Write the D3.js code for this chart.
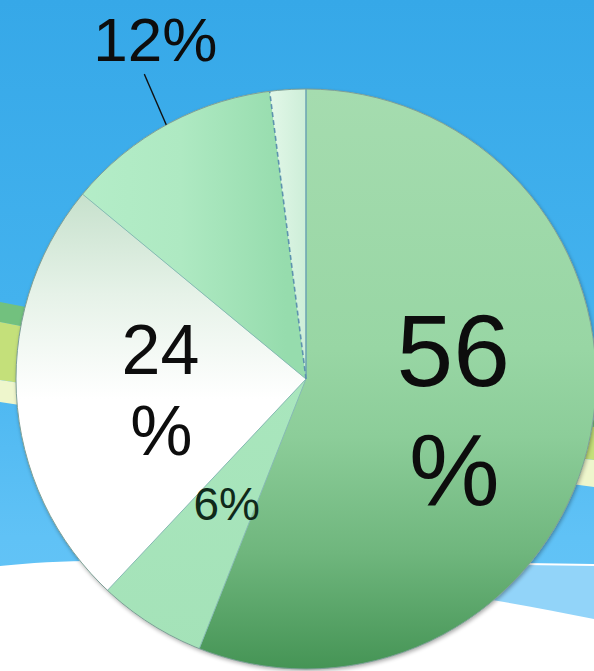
<!DOCTYPE html>
<html>
<head>
<meta charset="utf-8">
<script src="https://cdn.jsdelivr.net/npm/d3@7"></script>
<style>
  html, body { margin: 0; padding: 0; background: #fff; }
  svg { display: block; }
  text { font-family: "Liberation Sans", Arial, sans-serif; }
</style>
</head>
<body>
<div id="chart"></div>
<script>
// ---- data ----
const categories = ["A", "B", "C", "D", "E"];
const values = [56, 6, 24, 12, 2];
const labels = ["56%", "6%", "24%", "12%", ""];

// ---- styles ----
const W = 594, H = 671;
const cx = 306, cy = 379, R = 290;
const fontSizes = [102, 46, 70, 62, 0];
const wrapLabel = [true, false, true, false, false];
const outsideLabel = [false, false, false, true, false];

const svg = d3.select("#chart").append("svg").attr("width", W).attr("height", H);
const defs = svg.append("defs");

function linGrad(id, x1, y1, x2, y2, stops, units) {
  const g = defs.append("linearGradient").attr("id", id)
    .attr("x1", x1).attr("y1", y1).attr("x2", x2).attr("y2", y2);
  if (units) g.attr("gradientUnits", units);
  stops.forEach(s => g.append("stop").attr("offset", s[0]).attr("stop-color", s[1]));
}

// background gradients
linGrad("sky", 0, 0, 0, 1, [[0, "#36a8e8"], [0.45, "#43b2ee"], [0.8, "#60c2f6"], [1, "#66c5f7"]]);

// slice gradients (user space of the pie group, origin at the pie centre)
linGrad("g56", 0, -R, 0, R, [[0, "#a5dcaf"], [0.45, "#98d6a4"], [0.6, "#8ccd99"], [0.8, "#6fb67d"], [1, "#459455"]], "userSpaceOnUse");
linGrad("g6", 0, 0, 0, R, [[0, "#a9e6bd"], [1, "#a4e2b8"]], "userSpaceOnUse");
linGrad("g24", 0, -190, 0, 20, [[0, "#c5e0cb"], [0.5, "#e6f2e8"], [1, "#ffffff"]], "userSpaceOnUse");
linGrad("g12", -230, 0, -20, 0, [[0, "#b4edc8"], [0.5, "#aee9c2"], [1, "#96dcad"]], "userSpaceOnUse");
linGrad("g2", -36, 0, 0, 0, [[0, "#e2f7e8"], [1, "#cdeed8"]], "userSpaceOnUse");
const fills = ["url(#g56)", "url(#g6)", "url(#g24)", "url(#g12)", "url(#g2)"];

// ---- background ----
svg.append("rect").attr("width", W).attr("height", H).attr("fill", "url(#sky)");

// wave bands
const bands = [
  { top: [[0, 302], [300, 360], [594, 420]], bot: [[0, 322], [300, 380], [594, 427]], fill: "#72c17e" },
  { top: [[0, 322], [300, 380], [594, 427]], bot: [[0, 380], [300, 425], [594, 460]], fill: "#c4e07a" },
  { top: [[0, 380], [300, 425], [594, 460]], bot: [[0, 402], [300, 448], [594, 487]], fill: "#eef6cc" }
];
bands.forEach(b => {
  const pts = b.top.concat(b.bot.slice().reverse());
  svg.append("path")
    .attr("d", d3.line().curve(d3.curveLinearClosed)(pts))
    .attr("fill", b.fill);
});

// light blue band on right with white top line
svg.append("path")
  .attr("d", "M300,561 L594,565 L594,640 L300,640 Z")
  .attr("fill", "#92d4f9");
svg.append("line").attr("x1", 300).attr("y1", 561).attr("x2", 594).attr("y2", 565)
  .attr("stroke", "#ffffff").attr("stroke-width", 2);

// white bottom curve
svg.append("path")
  .attr("d", "M0,566 C120,552 330,566 594,619 L594,671 L0,671 Z")
  .attr("fill", "#ffffff");

// ---- pie ----
const pie = d3.pie().sort(null).value(d => d)(values);
const arc = d3.arc().innerRadius(0).outerRadius(R);
const g = svg.append("g").attr("transform", `translate(${cx},${cy})`);

// shadow
const filt = defs.append("filter").attr("id", "sh").attr("x", "-10%").attr("y", "-10%").attr("width", "120%").attr("height", "120%");
filt.append("feGaussianBlur").attr("in", "SourceAlpha").attr("stdDeviation", 2);
filt.append("feOffset").attr("dx", 1).attr("dy", 2).attr("result", "b");
filt.append("feComponentTransfer").append("feFuncA").attr("type", "linear").attr("slope", 0.35);
const m = filt.append("feMerge");
m.append("feMergeNode");
m.append("feMergeNode").attr("in", "SourceGraphic");

g.append("circle").attr("r", R).attr("fill", "#9ad6a5").attr("filter", "url(#sh)");

g.selectAll("path.slice").data(pie).enter().append("path")
  .attr("class", "slice")
  .attr("d", arc)
  .attr("fill", (d, i) => fills[i])
  .attr("stroke", "none");

// slice separators
const edge = (angle, r) => [r * Math.sin(angle), -r * Math.cos(angle)];
pie.forEach((d, i) => {
  const p = edge(d.startAngle, R);
  const ln = g.append("line").attr("x1", 0).attr("y1", 0).attr("x2", p[0]).attr("y2", p[1])
    .attr("stroke", i === 0 ? "#6aa3b2" : (i === 4 ? "#5d93ae" : "#86b9b4"))
    .attr("stroke-width", i === 0 ? 1.5 : 1);
  if (i === 4) ln.attr("stroke-dasharray", "5,3").attr("stroke-width", 1.6);
});
// outline
g.append("circle").attr("r", R).attr("fill", "none").attr("stroke", "#7f9f98").attr("stroke-width", 1);

// ---- labels ----
const labelArc = d3.arc().innerRadius(R * 0.51).outerRadius(R * 0.51);
pie.forEach((d, i) => {
  if (!labels[i]) return;
  const fs = fontSizes[i];
  if (outsideLabel[i]) {
    const mid = (d.startAngle + d.endAngle) / 2;
    const a = edge(mid, R);
    const b = edge(mid + 0.015, R * 1.19);
    g.append("line").attr("x1", a[0]).attr("y1", a[1]).attr("x2", b[0]).attr("y2", b[1])
      .attr("stroke", "#111").attr("stroke-width", 1.3);
    g.append("text").attr("x", b[0] + 11).attr("y", b[1] - 13)
      .attr("text-anchor", "middle").attr("font-size", fs).attr("fill", "#0d0d0d")
      .text(labels[i]);
    return;
  }
  const c = labelArc.centroid(d);
  if (wrapLabel[i]) {
    const num = labels[i].replace("%", "");
    const t = g.append("text").attr("text-anchor", "middle").attr("font-size", fs).attr("fill", "#0d0d0d");
    const lh = fs * 1.16;
    t.append("tspan").attr("x", c[0] + 2).attr("y", c[1] - lh / 2 + fs * 0.38).text(num);
    t.append("tspan").attr("x", c[0] + 3).attr("y", c[1] + lh / 2 + fs * 0.38).text("%");
  } else {
    g.append("text").attr("x", c[0]).attr("y", c[1] + fs * 0.36)
      .attr("text-anchor", "middle").attr("font-size", fs).attr("fill", "#10291a")
      .text(labels[i]);
  }
});
</script>
</body>
</html>
